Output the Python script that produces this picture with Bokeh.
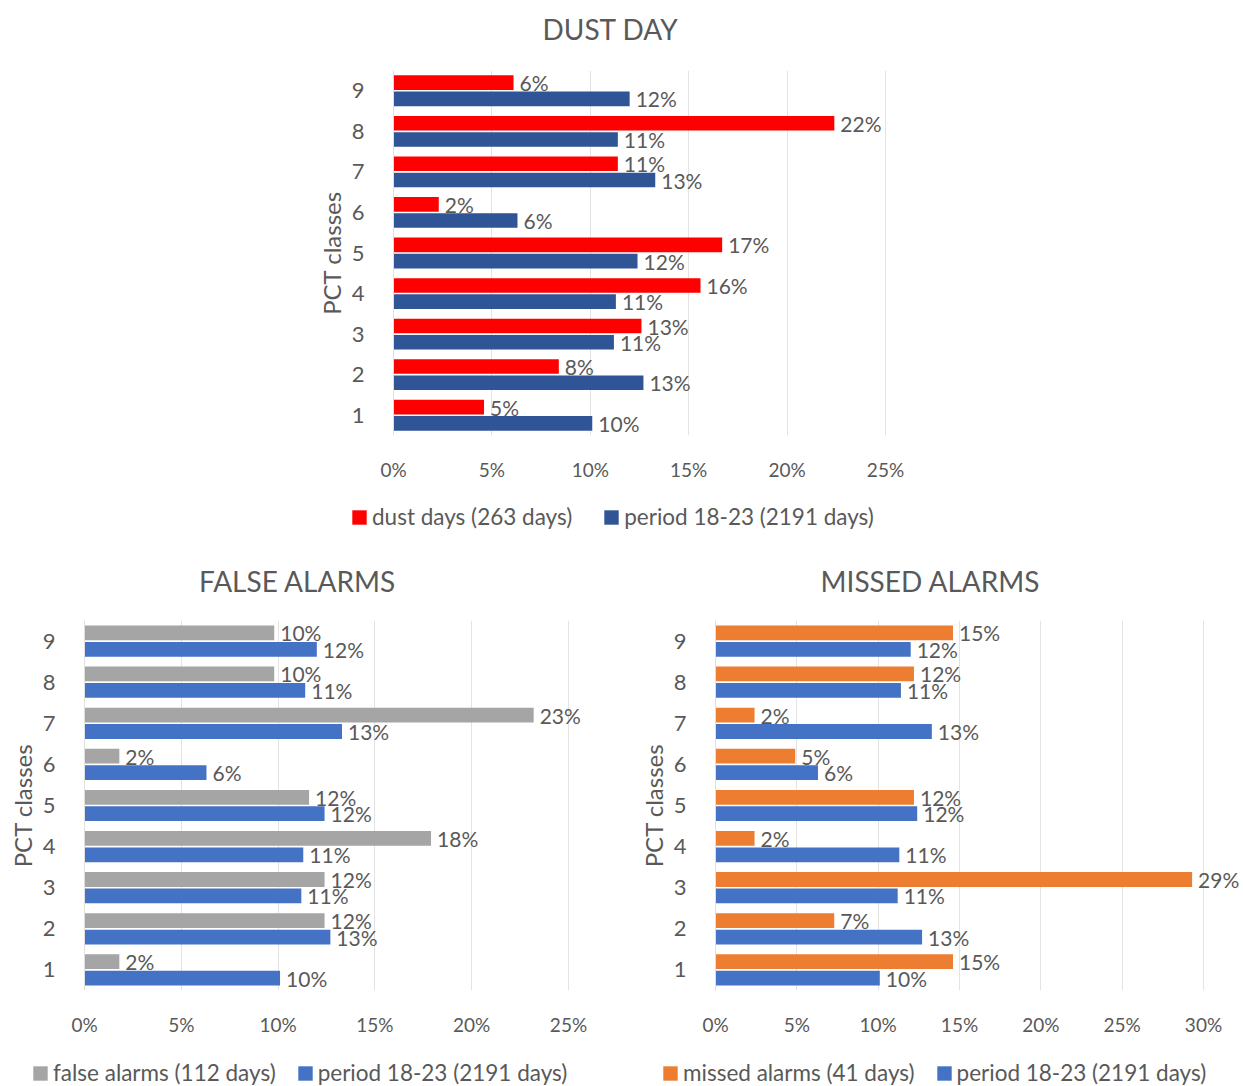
from bokeh.plotting import figure
from bokeh.layouts import column, row
from bokeh.models import (ColumnDataSource, Range1d, FixedTicker, PrintfTickFormatter,
                          Legend, LegendItem, LabelSet, Label)
from bokeh.core.properties import value
from bokeh.embed import file_html
from bokeh.resources import INLINE

# PCT classes and shares of days (%) per class
classes = [1, 2, 3, 4, 5, 6, 7, 8, 9]
period_pct = [10.1, 12.7, 11.2, 11.3, 12.4, 6.3, 13.3, 11.4, 12.0]
dust_pct = [4.6, 8.4, 12.6, 15.6, 16.7, 2.3, 11.4, 22.4, 6.1]
false_pct = [1.8, 12.4, 12.4, 17.9, 11.6, 1.8, 23.2, 9.8, 9.8]
missed_pct = [14.6, 7.3, 29.3, 2.4, 12.2, 4.9, 2.4, 12.2, 14.6]

ticks_25 = [0, 5, 10, 15, 20, 25]
ticks_30 = [0, 5, 10, 15, 20, 25, 30]

FONT = "Lato"
TXT = "#595959"
RED, DARK_BLUE, GREY, ORANGE, BLUE = "#FF0000", "#2F5597", "#A5A5A5", "#ED7D31", "#4472C4"


def chart(series, series_color, period_color, axis_max, axis_px, xticks,
          left, frame_w, right, top, frame_h, bottom):
    # axis_px: pixel length of 0..axis_max; the frame runs a bit further so
    # that value labels past the last gridline stay visible
    x_end = axis_max * frame_w / axis_px
    p = figure(output_backend="svg", toolbar_location=None, title=None,
               frame_width=frame_w, frame_height=frame_h,
               min_border_left=left, min_border_right=right,
               min_border_top=top, min_border_bottom=bottom,
               x_range=Range1d(0, x_end), y_range=Range1d(0.5, 9.5))
    p.outline_line_color = None

    s1 = ColumnDataSource(dict(y=[c + 0.2 for c in classes], v=series,
                               lab=[f"{v:.0f}%" for v in series]))
    s2 = ColumnDataSource(dict(y=[c - 0.2 for c in classes], v=period_pct,
                               lab=[f"{v:.0f}%" for v in period_pct]))
    p.hbar(y="y", left=0, right="v", height=0.36, source=s1,
           fill_color=series_color, line_color=None)
    p.hbar(y="y", left=0, right="v", height=0.36, source=s2,
           fill_color=period_color, line_color=None)
    for s in (s1, s2):
        p.add_layout(LabelSet(x="v", y="y", text="lab", source=s, x_offset=6,
                              text_baseline="middle", text_align="left",
                              text_font=value(FONT), text_font_size="21px",
                              text_color=TXT))

    p.xaxis.ticker = FixedTicker(ticks=xticks)
    p.xaxis.formatter = PrintfTickFormatter(format="%d%%")
    p.xaxis.axis_line_color = None
    p.xaxis.major_tick_line_color = None
    p.xaxis.minor_tick_line_color = None
    p.xaxis.major_label_standoff = 16
    p.xaxis.major_label_text_font = FONT
    p.xaxis.major_label_text_font_size = "19px"
    p.xaxis.major_label_text_color = TXT

    p.yaxis.ticker = FixedTicker(ticks=classes)
    p.yaxis.axis_label = "PCT classes"
    p.yaxis.axis_label_text_font = FONT
    p.yaxis.axis_label_text_font_size = "24px"
    p.yaxis.axis_label_text_font_style = "normal"
    p.yaxis.axis_label_text_color = TXT
    p.yaxis.axis_label_standoff = 3
    p.yaxis.axis_line_color = "#e0e0e0"
    p.yaxis.major_tick_line_color = None
    p.yaxis.minor_tick_line_color = None
    p.yaxis.major_label_standoff = 23
    p.yaxis.major_label_text_font = FONT
    p.yaxis.major_label_text_font_size = "22px"
    p.yaxis.major_label_text_color = TXT

    p.xgrid.ticker = FixedTicker(ticks=xticks)
    p.xgrid.grid_line_color = "#e3e3e3"
    p.ygrid.grid_line_color = None
    return p


def strip(height):
    # text-only band; its ranges keep the legend's bar renderers out of view
    q = figure(output_backend="svg", toolbar_location=None, title=None,
               width=1243, height=height, min_border=0,
               x_range=Range1d(0, 1), y_range=Range1d(100, 101),
               x_axis_type=None, y_axis_type=None)
    q.outline_line_color = None
    return q


def add_title(q, text, x, y):
    q.add_layout(Label(x=x, y=y, x_units="screen", y_units="screen", text=text,
                       text_align="center", text_baseline="middle",
                       text_font=FONT, text_font_size="28px", text_color=TXT))


def add_legend(q, entries, x, y, spacing):
    items = []
    for lab, col, vals in entries:
        r = q.hbar(y=classes, right=vals, height=0.36, fill_color=col, line_color=None)
        items.append(LegendItem(label=lab, renderers=[r]))
    leg = Legend(items=items, orientation="horizontal", location=(x, y))
    leg.glyph_width = 18
    leg.glyph_height = 18
    leg.label_standoff = 4
    leg.spacing = spacing
    leg.padding = 0
    leg.margin = 0
    leg.label_text_font = FONT
    leg.label_text_font_size = "22.5px"
    leg.label_text_color = TXT
    leg.border_line_color = None
    leg.background_fill_alpha = 0
    q.add_layout(leg, "center")


# title band above the dust-day chart
head = strip(50)
add_title(head, "DUST DAY", 610, 22)

top = chart(dust_pct, RED, DARK_BLUE, 25, 492, ticks_25, 393, 547, 303, 20, 365, 60)

# legend of the dust-day chart and titles of the two lower charts
mid = strip(105)
add_legend(mid, [("dust days (263 days)", RED, dust_pct),
                 ("period 18-23 (2191 days)", DARK_BLUE, period_pct)], 350, 70, 30)
add_title(mid, "FALSE ALARMS", 297, 20)
add_title(mid, "MISSED ALARMS", 930, 20)

bl = chart(false_pct, GREY, BLUE, 25, 484, ticks_25, 84, 526, 10, 20, 370, 60)
br = chart(missed_pct, ORANGE, BLUE, 30, 488, ticks_30, 95, 528, 0, 20, 370, 60)

foot = strip(36)
add_legend(foot, [("false alarms (112 days)", GREY, false_pct),
                  ("period 18-23 (2191 days)", BLUE, period_pct)], 31, 0, 20)
add_legend(foot, [("missed alarms (41 days)", ORANGE, missed_pct),
                  ("period 18-23 (2191 days)", BLUE, period_pct)], 661, 0, 20)

layout = column(row(head), top, row(mid), row(bl, br, spacing=0), row(foot), spacing=0)
open("out.html", "w").write(file_html(layout, INLINE))
